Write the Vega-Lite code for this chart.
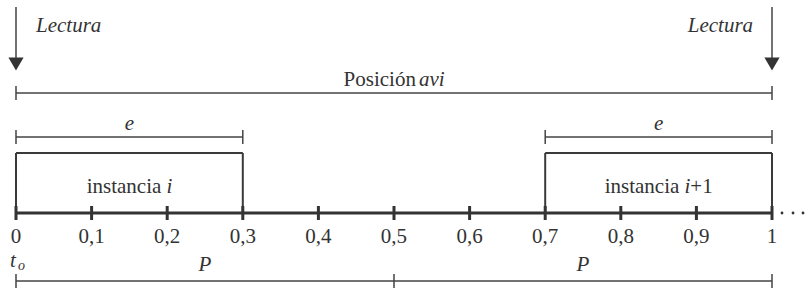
{
  "$schema": "https://vega.github.io/schema/vega-lite/v6.json",
  "width": 809,
  "height": 288,
  "padding": 0,
  "autosize": {"type": "none"},
  "config": {"view": {"stroke": null}},
  "datasets": {
    "thin": [
      {"x": 0, "x2": 1, "y": 93, "y2": 93},
      {"x": 0, "x2": 0, "y": 86, "y2": 100},
      {"x": 1, "x2": 1, "y": 86, "y2": 100},
      {"x": 0, "x2": 0.3, "y": 137, "y2": 137},
      {"x": 0.7, "x2": 1, "y": 137, "y2": 137},
      {"x": 0, "x2": 0, "y": 130, "y2": 144},
      {"x": 0.3, "x2": 0.3, "y": 130, "y2": 144},
      {"x": 0.7, "x2": 0.7, "y": 130, "y2": 144},
      {"x": 1, "x2": 1, "y": 130, "y2": 144},
      {"x": 0, "x2": 0.5, "y": 281, "y2": 281},
      {"x": 0.5, "x2": 1, "y": 281, "y2": 281},
      {"x": 0, "x2": 0, "y": 274, "y2": 288},
      {"x": 0.5, "x2": 0.5, "y": 274, "y2": 288},
      {"x": 1, "x2": 1, "y": 274, "y2": 288},
      {"x": 0, "x2": 0, "y": 7, "y2": 60},
      {"x": 1, "x2": 1, "y": 7, "y2": 60}
    ],
    "box": [
      {"x": 0, "x2": 0.3, "y": 153, "y2": 153},
      {"x": 0.7, "x2": 1, "y": 153, "y2": 153},
      {"x": 0, "x2": 0, "y": 153, "y2": 213},
      {"x": 0.3, "x2": 0.3, "y": 153, "y2": 213},
      {"x": 0.7, "x2": 0.7, "y": 153, "y2": 213},
      {"x": 1, "x2": 1, "y": 153, "y2": 213}
    ],
    "axis": [
      {"x": 0, "x2": 1, "y": 213, "y2": 213},
      {"x": 0, "x2": 0, "y": 206, "y2": 220},
      {"x": 0.1, "x2": 0.1, "y": 206, "y2": 220},
      {"x": 0.2, "x2": 0.2, "y": 206, "y2": 220},
      {"x": 0.3, "x2": 0.3, "y": 206, "y2": 220},
      {"x": 0.4, "x2": 0.4, "y": 206, "y2": 220},
      {"x": 0.5, "x2": 0.5, "y": 206, "y2": 220},
      {"x": 0.6, "x2": 0.6, "y": 206, "y2": 220},
      {"x": 0.7, "x2": 0.7, "y": 206, "y2": 220},
      {"x": 0.8, "x2": 0.8, "y": 206, "y2": 220},
      {"x": 0.9, "x2": 0.9, "y": 206, "y2": 220},
      {"x": 1, "x2": 1, "y": 206, "y2": 220}
    ],
    "arrows": [
      {"x": 0, "y": 64},
      {"x": 1, "y": 64}
    ],
    "dots": [
      {"x": 1.0132, "y": 213},
      {"x": 1.0278, "y": 213},
      {"x": 1.041, "y": 213}
    ],
    "ticklabels": [
      {"x": 0, "y": 243, "label": "0"},
      {"x": 0.1, "y": 243, "label": "0,1"},
      {"x": 0.2, "y": 243, "label": "0,2"},
      {"x": 0.3, "y": 243, "label": "0,3"},
      {"x": 0.4, "y": 243, "label": "0,4"},
      {"x": 0.5, "y": 243, "label": "0,5"},
      {"x": 0.6, "y": 243, "label": "0,6"},
      {"x": 0.7, "y": 243, "label": "0,7"},
      {"x": 0.8, "y": 243, "label": "0,8"},
      {"x": 0.9, "y": 243, "label": "0,9"},
      {"x": 1, "y": 243, "label": "1"}
    ],
    "uprightRight": [
      {"x": 0.529, "y": 86, "label": "Posición"},
      {"x": 0.1922, "y": 193, "label": "instancia"},
      {"x": 0.8774, "y": 193, "label": "instancia"}
    ],
    "uprightLeft": [
      {"x": 0.892, "y": 193, "label": "+1"}
    ],
    "italicLeft": [
      {"x": 0.0265, "y": 32, "label": "Lectura"},
      {"x": 0.533, "y": 86, "label": "avi"},
      {"x": 0.199, "y": 193, "label": "i"},
      {"x": 0.8844, "y": 193, "label": "i"},
      {"x": -0.008, "y": 267, "label": "t"}
    ],
    "italicRight": [
      {"x": 0.975, "y": 32, "label": "Lectura"}
    ],
    "italicCenter": [
      {"x": 0.15, "y": 130, "label": "e"},
      {"x": 0.85, "y": 130, "label": "e"},
      {"x": 0.25, "y": 271, "label": "P"},
      {"x": 0.75, "y": 271, "label": "P"}
    ],
    "subscript": [
      {"x": 0.0026, "y": 270, "label": "o"}
    ]
  },
  "layer": [
    {
      "data": {"name": "thin"},
      "mark": {"type": "rule", "stroke": "#444444", "strokeWidth": 1.5},
      "encoding": {
        "x": {"field": "x", "type": "quantitative", "scale": {"domain": [-0.02116, 1.04894], "nice": false, "zero": false}, "axis": null},
        "x2": {"field": "x2"},
        "y": {"field": "y", "type": "quantitative", "scale": {"domain": [0, 288], "reverse": true, "nice": false, "zero": false}, "axis": null},
        "y2": {"field": "y2"}
      }
    },
    {
      "data": {"name": "box"},
      "mark": {"type": "rule", "stroke": "#3a3a3a", "strokeWidth": 2},
      "encoding": {
        "x": {"field": "x", "type": "quantitative"},
        "x2": {"field": "x2"},
        "y": {"field": "y", "type": "quantitative"},
        "y2": {"field": "y2"}
      }
    },
    {
      "data": {"name": "axis"},
      "mark": {"type": "rule", "stroke": "#333333", "strokeWidth": 3},
      "encoding": {
        "x": {"field": "x", "type": "quantitative"},
        "x2": {"field": "x2"},
        "y": {"field": "y", "type": "quantitative"},
        "y2": {"field": "y2"}
      }
    },
    {
      "data": {"name": "arrows"},
      "mark": {"type": "point", "shape": "triangle-down", "filled": true, "color": "#333333", "size": 230, "opacity": 1},
      "encoding": {
        "x": {"field": "x", "type": "quantitative"},
        "y": {"field": "y", "type": "quantitative"}
      }
    },
    {
      "data": {"name": "dots"},
      "mark": {"type": "point", "shape": "circle", "filled": true, "color": "#333333", "size": 8, "opacity": 1},
      "encoding": {
        "x": {"field": "x", "type": "quantitative"},
        "y": {"field": "y", "type": "quantitative"}
      }
    },
    {
      "data": {"name": "ticklabels"},
      "mark": {"type": "text", "align": "center", "font": "Liberation Serif", "fontSize": 21, "color": "#333333", "baseline": "alphabetic"},
      "encoding": {
        "x": {"field": "x", "type": "quantitative"},
        "y": {"field": "y", "type": "quantitative"},
        "text": {"field": "label"}
      }
    },
    {
      "data": {"name": "uprightRight"},
      "mark": {"type": "text", "align": "right", "font": "Liberation Serif", "fontSize": 21, "color": "#333333", "baseline": "alphabetic"},
      "encoding": {
        "x": {"field": "x", "type": "quantitative"},
        "y": {"field": "y", "type": "quantitative"},
        "text": {"field": "label"}
      }
    },
    {
      "data": {"name": "uprightLeft"},
      "mark": {"type": "text", "align": "left", "font": "Liberation Serif", "fontSize": 21, "color": "#333333", "baseline": "alphabetic"},
      "encoding": {
        "x": {"field": "x", "type": "quantitative"},
        "y": {"field": "y", "type": "quantitative"},
        "text": {"field": "label"}
      }
    },
    {
      "data": {"name": "italicLeft"},
      "mark": {"type": "text", "align": "left", "fontStyle": "italic", "font": "Liberation Serif", "fontSize": 21, "color": "#333333", "baseline": "alphabetic"},
      "encoding": {
        "x": {"field": "x", "type": "quantitative"},
        "y": {"field": "y", "type": "quantitative"},
        "text": {"field": "label"}
      }
    },
    {
      "data": {"name": "italicRight"},
      "mark": {"type": "text", "align": "right", "fontStyle": "italic", "font": "Liberation Serif", "fontSize": 21, "color": "#333333", "baseline": "alphabetic"},
      "encoding": {
        "x": {"field": "x", "type": "quantitative"},
        "y": {"field": "y", "type": "quantitative"},
        "text": {"field": "label"}
      }
    },
    {
      "data": {"name": "italicCenter"},
      "mark": {"type": "text", "align": "center", "fontStyle": "italic", "font": "Liberation Serif", "fontSize": 21, "color": "#333333", "baseline": "alphabetic"},
      "encoding": {
        "x": {"field": "x", "type": "quantitative"},
        "y": {"field": "y", "type": "quantitative"},
        "text": {"field": "label"}
      }
    },
    {
      "data": {"name": "subscript"},
      "mark": {"type": "text", "align": "left", "fontStyle": "italic", "font": "Liberation Serif", "fontSize": 14, "color": "#333333", "baseline": "alphabetic"},
      "encoding": {
        "x": {"field": "x", "type": "quantitative"},
        "y": {"field": "y", "type": "quantitative"},
        "text": {"field": "label"}
      }
    }
  ]
}
